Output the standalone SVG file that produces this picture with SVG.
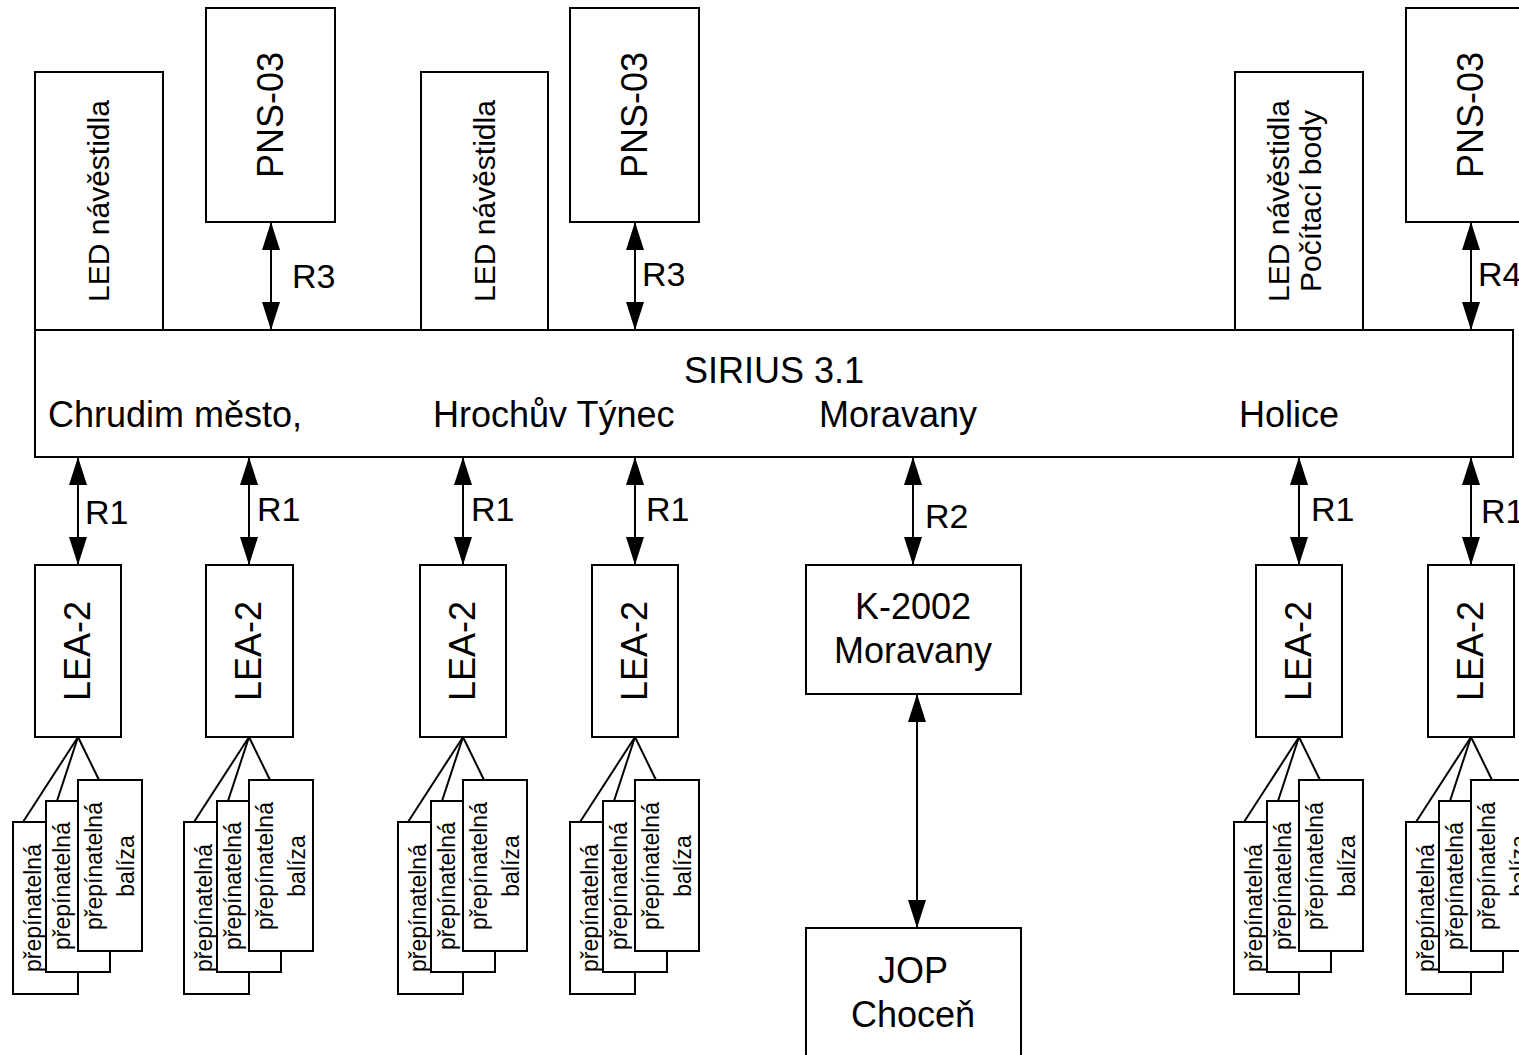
<svg xmlns="http://www.w3.org/2000/svg" width="1519" height="1055" viewBox="0 0 1519 1055">
<style>
.box{fill:#fff;stroke:#000;stroke-width:2}
.ln{fill:none;stroke:#000;stroke-width:2}
.t{font-family:"Liberation Sans",Arial,sans-serif;fill:#000}
.f30{font-size:30px}
.f36{font-size:36px}
.f34{font-size:34px}
.f23{font-size:23px}
.mid{text-anchor:middle}
</style>
<defs>
<marker id="ah" viewBox="0 0 28 18" markerWidth="28" markerHeight="18" refX="28" refY="9" orient="auto-start-reverse" markerUnits="userSpaceOnUse">
<path d="M0,0 L28,9 L0,18 z" fill="#000"/>
</marker>
<g id="stack">
<line class="ln" x1="0" y1="737" x2="-55" y2="822"/>
<line class="ln" x1="0" y1="737" x2="-21" y2="801"/>
<line class="ln" x1="0" y1="737" x2="21" y2="780"/>
<rect class="box" x="-65" y="822" width="65" height="172"/>
<text class="t f23 mid" transform="translate(-37,908) rotate(-90)">přepínatelná</text>
<rect class="box" x="-32" y="801" width="64" height="171"/>
<text class="t f23 mid" transform="translate(-8,886) rotate(-90)">přepínatelná</text>
<rect class="box" x="0" y="780" width="64" height="171"/>
<text class="t f23 mid" transform="translate(24,866) rotate(-90)">přepínatelná</text>
<text class="t f23 mid" transform="translate(56,866) rotate(-90)">balíza</text>
</g>
</defs>

<g id="connectors">
<line class="ln" x1="271" y1="222" x2="271" y2="330" marker-start="url(#ah)" marker-end="url(#ah)"/>
<line class="ln" x1="635" y1="222" x2="635" y2="330" marker-start="url(#ah)" marker-end="url(#ah)"/>
<line class="ln" x1="1471" y1="222" x2="1471" y2="330" marker-start="url(#ah)" marker-end="url(#ah)"/>
<line class="ln" x1="78" y1="457" x2="78" y2="565" marker-start="url(#ah)" marker-end="url(#ah)"/>
<line class="ln" x1="249" y1="457" x2="249" y2="565" marker-start="url(#ah)" marker-end="url(#ah)"/>
<line class="ln" x1="463" y1="457" x2="463" y2="565" marker-start="url(#ah)" marker-end="url(#ah)"/>
<line class="ln" x1="635" y1="457" x2="635" y2="565" marker-start="url(#ah)" marker-end="url(#ah)"/>
<line class="ln" x1="913" y1="457" x2="913" y2="565" marker-start="url(#ah)" marker-end="url(#ah)"/>
<line class="ln" x1="1299" y1="457" x2="1299" y2="565" marker-start="url(#ah)" marker-end="url(#ah)"/>
<line class="ln" x1="1471" y1="457" x2="1471" y2="565" marker-start="url(#ah)" marker-end="url(#ah)"/>
<line class="ln" x1="917" y1="694" x2="917" y2="928" marker-start="url(#ah)" marker-end="url(#ah)"/>
<text class="t f34" x="292" y="288">R3</text>
<text class="t f34" x="642" y="286">R3</text>
<text class="t f34" x="1478" y="286">R4</text>
<text class="t f34" x="85" y="524">R1</text>
<text class="t f34" x="257" y="521">R1</text>
<text class="t f34" x="471" y="521">R1</text>
<text class="t f34" x="646" y="521">R1</text>
<text class="t f34" x="925" y="528">R2</text>
<text class="t f34" x="1311" y="521">R1</text>
<text class="t f34" x="1481" y="523">R1</text>
</g>

<g id="led1"><rect class="box" x="35" y="72" width="128" height="258"/>
<text class="t f30 mid" transform="translate(109,201) rotate(-90)">LED návěstidla</text></g>
<g id="pns1"><rect class="box" x="206" y="8" width="129" height="214"/>
<text class="t f36 mid" transform="translate(283,115) rotate(-90)">PNS-03</text></g>
<g id="led2"><rect class="box" x="421" y="72" width="127" height="258"/>
<text class="t f30 mid" transform="translate(495,201) rotate(-90)">LED návěstidla</text></g>
<g id="pns2"><rect class="box" x="570" y="8" width="129" height="214"/>
<text class="t f36 mid" transform="translate(647,115) rotate(-90)">PNS-03</text></g>
<g id="led3"><rect class="box" x="1235" y="72" width="128" height="258"/>
<text class="t f30 mid" transform="translate(1289,201) rotate(-90)">LED návěstidla</text>
<text class="t f30 mid" transform="translate(1321,201) rotate(-90)">Počítací body</text></g>
<g id="pns3"><rect class="box" x="1406" y="8" width="129" height="214"/>
<text class="t f36 mid" transform="translate(1483,115) rotate(-90)">PNS-03</text></g>

<g id="sirius"><rect class="box" x="35" y="330" width="1478" height="127"/>
<text class="t f36 mid" x="774" y="383">SIRIUS 3.1</text>
<text class="t f36" x="48" y="427">Chrudim město,</text>
<text class="t f36" x="433" y="427">Hrochův Týnec</text>
<text class="t f36" x="819" y="427">Moravany</text>
<text class="t f36" x="1239" y="427">Holice</text></g>

<g id="lea1"><rect class="box" x="35" y="565" width="86" height="172"/>
<text class="t f36 mid" transform="translate(90,651) rotate(-90)">LEA-2</text></g>
<g id="lea2"><rect class="box" x="206" y="565" width="87" height="172"/>
<text class="t f36 mid" transform="translate(261,651) rotate(-90)">LEA-2</text></g>
<g id="lea3"><rect class="box" x="420" y="565" width="86" height="172"/>
<text class="t f36 mid" transform="translate(475,651) rotate(-90)">LEA-2</text></g>
<g id="lea4"><rect class="box" x="592" y="565" width="86" height="172"/>
<text class="t f36 mid" transform="translate(647,651) rotate(-90)">LEA-2</text></g>
<g id="lea5"><rect class="box" x="1256" y="565" width="86" height="172"/>
<text class="t f36 mid" transform="translate(1311,651) rotate(-90)">LEA-2</text></g>
<g id="lea6"><rect class="box" x="1428" y="565" width="86" height="172"/>
<text class="t f36 mid" transform="translate(1483,651) rotate(-90)">LEA-2</text></g>

<g id="k2002"><rect class="box" x="806" y="565" width="215" height="129"/>
<text class="t f36 mid" x="913" y="619">K-2002</text>
<text class="t f36 mid" x="913" y="663">Moravany</text></g>
<g id="jop"><rect class="box" x="806" y="928" width="215" height="140"/>
<text class="t f36 mid" x="913" y="983">JOP</text>
<text class="t f36 mid" x="913" y="1027">Choceň</text></g>

<g id="balise1"><use href="#stack" x="78"/></g>
<g id="balise2"><use href="#stack" x="249"/></g>
<g id="balise3"><use href="#stack" x="463"/></g>
<g id="balise4"><use href="#stack" x="635"/></g>
<g id="balise5"><use href="#stack" x="1299"/></g>
<g id="balise6"><use href="#stack" x="1471"/></g>
</svg>
